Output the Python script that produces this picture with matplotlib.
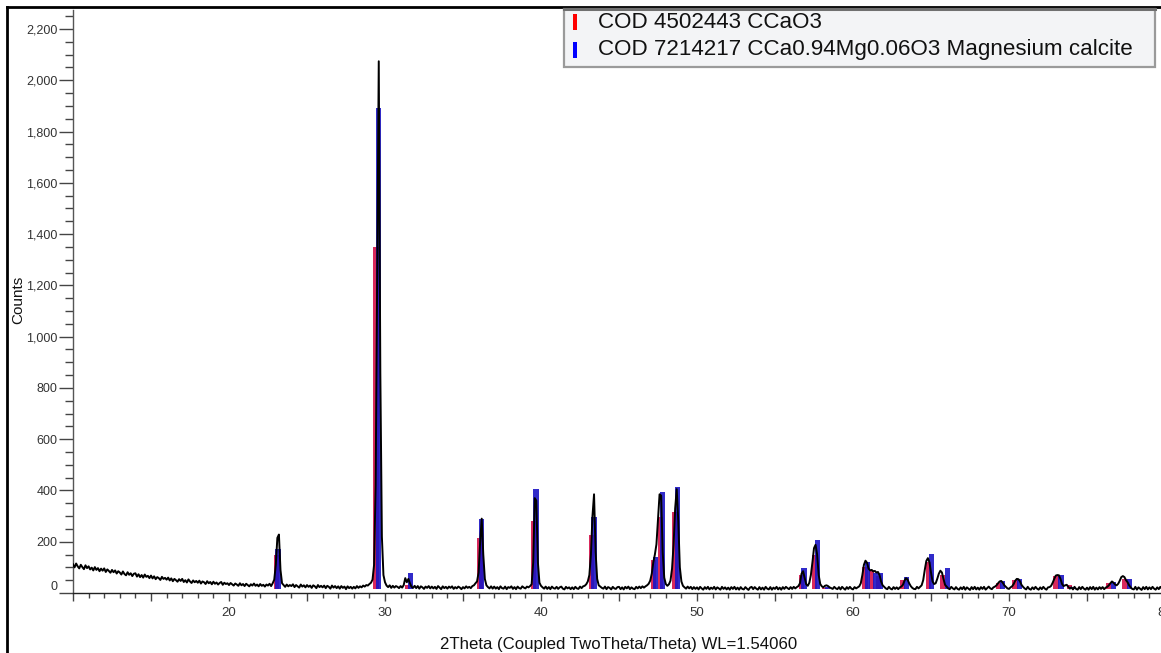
import numpy as np
import matplotlib
matplotlib.use("Agg")
import matplotlib.pyplot as plt
from matplotlib.patches import Rectangle
from matplotlib.lines import Line2D
from matplotlib.ticker import MultipleLocator, FixedLocator, FuncFormatter

plt.rcParams['font.family'] = ['Liberation Sans', 'DejaVu Sans']

# ---------------- data ----------------
two_theta_start = 10.0
two_theta_step = 0.1
counts = [
    112, 100, 115, 104, 96, 110, 101, 93, 108, 97,    # 10
    104, 92, 99, 88, 101, 90, 97, 85, 95, 87,         # 11
    96, 82, 92, 86, 79, 90, 81, 88, 76, 85,           # 12
    80, 72, 84, 74, 69, 81, 71, 77, 66, 75,           # 13
    77, 64, 73, 62, 70, 60, 72, 63, 67, 58,           # 14
    68, 57, 65, 54, 62, 58, 51, 63, 55, 59,           # 15
    52, 60, 49, 57, 46, 55, 50, 44, 54, 47,           # 16
    55, 43, 50, 41, 53, 45, 39, 49, 42, 47,           # 17
    40, 48, 37, 45, 42, 35, 46, 38, 43, 34,           # 18
    44, 36, 41, 33, 39, 43, 32, 40, 35, 38,           # 19
    31, 39, 34, 29, 37, 33, 28, 38, 30, 35,           # 20
    27, 36, 31, 26, 34, 29, 37, 28, 33, 26,           # 21
    35, 28, 32, 25, 33, 29, 36, 27, 38, 52,           # 22
    110, 215, 228, 90, 38, 31, 24, 33, 26, 31,        # 23
    27, 34, 23, 31, 26, 21, 33, 25, 30, 22,           # 24
    31, 24, 29, 20, 30, 26, 19, 31, 23, 28,           # 25
    22, 29, 19, 28, 24, 17, 29, 21, 27, 19,           # 26
    26, 17, 27, 20, 25, 15, 26, 19, 24, 17,           # 27
    24, 18, 27, 20, 26, 22, 29, 25, 31, 29,           # 28
    35, 40, 52, 110, 420, 1250, 2074, 860, 220, 70,   # 29
    42, 29, 23, 30, 20, 28, 21, 27, 24, 19,           # 30
    27, 21, 31, 58, 42, 55, 38, 24, 20, 28,           # 31
    19, 27, 17, 26, 22, 16, 25, 20, 27, 18,           # 32
    25, 18, 24, 16, 27, 21, 15, 26, 19, 24,           # 33
    17, 25, 20, 26, 16, 23, 18, 25, 21, 15,           # 34
    23, 18, 26, 20, 24, 19, 27, 30, 38, 45,           # 35
    80, 200, 290, 150, 55, 30, 23, 18, 26, 17,        # 36
    25, 17, 23, 15, 26, 19, 17, 25, 15, 23,           # 37
    20, 26, 16, 23, 15, 25, 19, 17, 26, 21,           # 38
    18, 25, 22, 27, 34, 120, 370, 360, 120, 40,       # 39
    28, 22, 17, 25, 16, 23, 15, 25, 19, 17,           # 40
    24, 16, 22, 25, 17, 14, 24, 18, 22, 15,           # 41
    22, 15, 24, 18, 16, 25, 19, 26, 28, 34,           # 42
    45, 70, 150, 300, 385, 160, 55, 30, 25, 20,       # 43
    17, 25, 15, 23, 20, 14, 24, 18, 16, 23,           # 44
    24, 15, 22, 14, 24, 18, 25, 15, 22, 17,           # 45
    15, 24, 18, 25, 19, 26, 21, 26, 30, 36,           # 46
    48, 75, 120, 150, 190, 290, 385, 380, 160, 60,    # 47
    35, 28, 34, 48, 95, 190, 330, 405, 280, 100,      # 48
    45, 28, 22, 17, 25, 18, 24, 15, 23, 16,           # 49
    22, 14, 24, 18, 13, 23, 16, 24, 14, 21,           # 50
    16, 24, 14, 22, 18, 13, 24, 16, 22, 14,           # 51
    21, 13, 23, 16, 24, 14, 21, 13, 23, 16,           # 52
    14, 23, 17, 12, 21, 24, 15, 23, 17, 13,           # 53
    23, 14, 21, 13, 24, 17, 14, 23, 13, 21,           # 54
    16, 24, 14, 21, 13, 23, 16, 24, 19, 15,           # 55
    23, 16, 24, 18, 23, 27, 38, 75, 85, 60,           # 56
    34, 28, 40, 70, 120, 175, 188, 150, 70, 35,       # 57
    26, 22, 28, 30, 27, 22, 19, 16, 24, 18,           # 58
    15, 23, 14, 24, 18, 13, 23, 16, 24, 17,           # 59
    14, 23, 18, 22, 26, 38, 70, 110, 126, 118,        # 60
    95, 88, 90, 84, 86, 80, 82, 70, 45, 30,           # 61
    24, 18, 15, 24, 17, 14, 23, 16, 22, 15,           # 62
    22, 25, 32, 48, 58, 52, 38, 27, 20, 16,           # 63
    15, 24, 18, 24, 30, 50, 90, 125, 136, 120,        # 64
    80, 45, 35, 38, 55, 75, 87, 80, 55, 32,           # 65
    25, 18, 15, 24, 18, 14, 23, 16, 13, 22,           # 66
    15, 24, 13, 22, 17, 12, 23, 15, 24, 14,           # 67
    21, 13, 23, 16, 24, 13, 19, 25, 18, 15,           # 68
    22, 25, 30, 38, 45, 47, 40, 30, 24, 18,           # 69
    16, 22, 26, 35, 48, 55, 54, 46, 32, 24,           # 70
    18, 14, 24, 16, 13, 22, 15, 24, 17, 13,           # 71
    22, 15, 24, 17, 13, 22, 23, 28, 40, 55,           # 72
    68, 70, 69, 55, 35, 27, 30, 32, 24, 17,           # 73
    22, 14, 24, 16, 13, 23, 15, 24, 17, 13,           # 74
    21, 13, 23, 15, 24, 13, 21, 14, 23, 16,           # 75
    23, 15, 21, 24, 30, 38, 45, 40, 33, 30,           # 76
    36, 48, 62, 66, 62, 50, 42, 30, 22, 16,           # 77
    14, 24, 13, 22, 17, 12, 23, 15, 24, 14,           # 78
    22, 15, 24, 17, 13, 22, 15, 24, 17, 13,           # 79
    20,                                               # 80
]

calcite_label = "COD 4502443 CCaO3"
calcite_pos = [23.05, 29.43, 31.45, 36.09, 39.50, 43.24, 47.20, 47.66, 48.59,
               56.70, 57.52, 58.20, 60.77, 61.20, 61.64, 63.18, 64.83, 65.74,
               69.31, 70.38, 73.01, 73.90, 76.37, 77.44]
calcite_int = [150, 1350, 30, 214, 280, 225, 128, 296, 316,
               70, 148, 20, 103, 90, 66, 51, 122, 70,
               38, 51, 66, 31, 40, 53]

mgcalcite_label = "COD 7214217 CCa0.94Mg0.06O3 Magnesium calcite"
mgcalcite_pos = [23.14, 29.60, 31.65, 36.20, 39.68, 43.40, 47.35, 47.79, 48.76,
                 56.86, 57.71, 58.35, 60.92, 61.45, 61.77, 63.43, 65.04, 66.06,
                 69.59, 70.66, 73.33, 74.05, 76.69, 77.71]
mgcalcite_int = [172, 1890, 79, 290, 405, 296, 140, 394, 413,
                 96, 207, 22, 122, 79, 79, 64, 152, 96,
                 47, 55, 70, 22, 44, 56]

y_ticks = [0, 200, 400, 600, 800, 1000, 1200, 1400, 1600, 1800, 2000, 2200]
x_tick_labels = [20, 30, 40, 50, 60, 70, 80]

# ---------------- figure ----------------
W, H = 1161, 653
fig = plt.figure(figsize=(W / 100, H / 100), dpi=100)
fig.patch.set_facecolor('white')

def fx(px):
    return px / W

def fy(py):
    return 1 - py / H

ax_l, ax_r, ax_t, ax_b = 73, 1165, 10, 593
ax = fig.add_axes([fx(ax_l), fy(ax_b), (ax_r - ax_l) / W, (ax_b - ax_t) / H])
ax.set_xlim(10, 80)
ax.set_ylim(0, 2274)

two_theta = two_theta_start + two_theta_step * np.arange(len(counts))

base = 15
ax.bar(calcite_pos, np.array(calcite_int) - base, bottom=base, width=0.34,
       color='#d4124a', alpha=0.9, linewidth=0, zorder=2)
ax.bar(mgcalcite_pos, np.array(mgcalcite_int) - base, bottom=base, width=0.34,
       color='#1a14c4', alpha=0.9, linewidth=0, zorder=3)
ax.plot(two_theta, counts, color='black', lw=1.4, zorder=4)

# spines
for s in ['top', 'right']:
    ax.spines[s].set_visible(False)
ax.spines['left'].set_color('#555555')
ax.spines['left'].set_linewidth(1.0)
ax.spines['bottom'].set_color('#222222')
ax.spines['bottom'].set_linewidth(1.0)

# ticks
ax.yaxis.set_major_locator(FixedLocator(y_ticks))
ax.yaxis.set_minor_locator(MultipleLocator(50))
ax.yaxis.set_major_formatter(FuncFormatter(lambda v, p: f"{int(v):,}"))
ax.xaxis.set_major_locator(FixedLocator(np.arange(10, 81, 5)))
ax.xaxis.set_minor_locator(MultipleLocator(1))
ax.xaxis.set_major_formatter(FuncFormatter(
    lambda v, p: str(int(round(v))) if int(round(v)) in x_tick_labels else ''))
ax.tick_params(axis='y', which='major', direction='out', length=10, width=1.0,
               color='#444444', labelsize=9, labelcolor='#333333', pad=1)
ax.tick_params(axis='y', which='minor', direction='out', length=6, width=1.0,
               color='#444444')
ax.tick_params(axis='x', which='major', direction='out', length=6, width=1.0,
               color='#444444', labelsize=9.5, labelcolor='#333333', pad=4)
ax.tick_params(axis='x', which='minor', direction='out', length=3.5, width=1.0,
               color='#444444')

fig.canvas.draw()
for lab in ax.get_yticklabels():
    if lab.get_text() == '0':
        lab.set_verticalalignment('bottom')

# axis titles
fig.text(fx(18), fy(300), 'Counts', rotation=90, ha='center', va='center',
         fontsize=11, color='#111111')
fig.text(fx(619), fy(645), '2Theta (Coupled TwoTheta/Theta) WL=1.54060',
         ha='center', va='center', fontsize=12.1, color='#111111')

# legend box
lx0, ly0, lx1, ly1 = 564, 9, 1155, 67
fig.patches.append(Rectangle((fx(lx0), fy(ly1)), (lx1 - lx0) / W, (ly1 - ly0) / H,
                             transform=fig.transFigure, facecolor='#f3f4f6',
                             edgecolor='#9a9a9a', lw=1.6, zorder=5))
fig.lines.append(Line2D([fx(lx0), fx(lx1)], [fy(ly0), fy(ly0)],
                        transform=fig.transFigure, color='#707070', lw=2.2, zorder=6))
for (col, lab, yc) in [('#ff0000', calcite_label, 22), ('#0000ff', mgcalcite_label, 50)]:
    fig.patches.append(Rectangle((fx(573), fy(yc + 8)), 4 / W, 16 / H,
                                 transform=fig.transFigure, facecolor=col,
                                 edgecolor='none', zorder=6))
    fig.text(fx(598), fy(yc), lab, ha='left', va='center', fontsize=16.1,
             color='#111111', zorder=7)

# figure frame (left and top)
fig.lines.append(Line2D([fx(7), fx(1161)], [fy(7), fy(7)], transform=fig.transFigure,
                        color='black', lw=2.0))
fig.lines.append(Line2D([fx(7), fx(7)], [fy(7), fy(653)], transform=fig.transFigure,
                        color='black', lw=2.0))

fig.savefig('out.png', dpi=100)
